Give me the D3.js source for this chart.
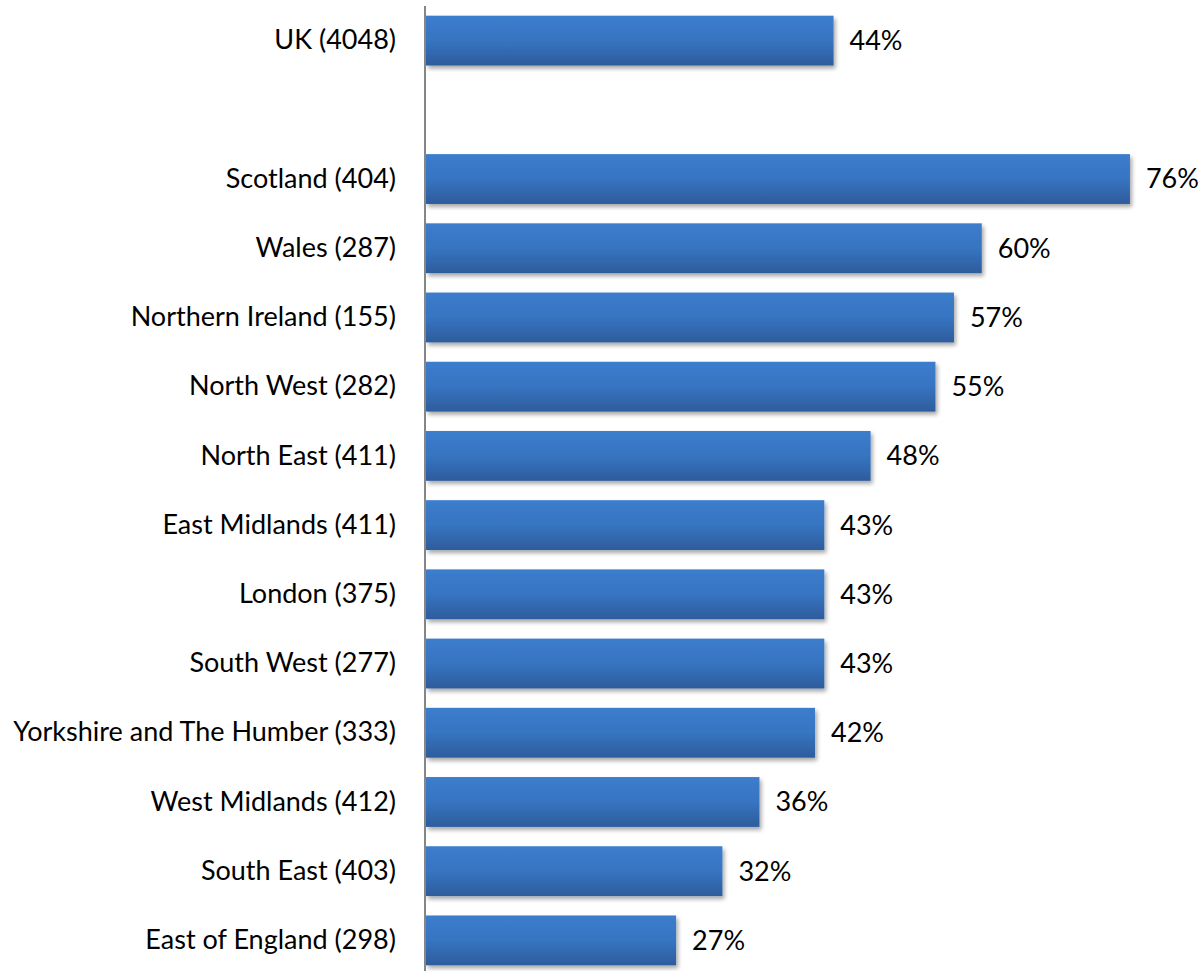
<!DOCTYPE html>
<html>
<head>
<meta charset="utf-8">
<script src="https://cdn.jsdelivr.net/npm/d3@7"></script>
<style>
  html, body { margin: 0; padding: 0; background: #fff; }
  svg { display: block; }
  text { font-family: Lato, "Open Sans", sans-serif; fill: #000; }
</style>
</head>
<body>
<svg id="chart" width="1200" height="971"></svg>
<script>
// Regions with sample sizes; the empty entry leaves a gap below the UK total
const categories = [
  "UK (4048)", "",
  "Scotland (404)", "Wales (287)", "Northern Ireland (155)", "North West (282)",
  "North East (411)", "East Midlands (411)", "London (375)", "South West (277)",
  "Yorkshire and The Humber (333)", "West Midlands (412)", "South East (403)",
  "East of England (298)"
];
const values = [44, null, 76, 60, 57, 55, 48, 43, 43, 43, 42, 36, 32, 27];
const valueLabels = ["44%", "", "76%", "60%", "57%", "55%", "48%", "43%", "43%", "43%", "42%", "36%", "32%", "27%"];

const svg = d3.select("#chart");
const axisX = 426;
const fontSize = 27;

const x = d3.scaleLinear().domain([0, 80]).range([axisX, 1167]);
const y = d3.scaleBand().domain(d3.range(categories.length))
  .range([6, 975]).paddingInner(0.28).paddingOuter(0.14);

const defs = svg.append("defs");
const grad = defs.append("linearGradient").attr("id", "barFill")
  .attr("x1", 0).attr("y1", 0).attr("x2", 0).attr("y2", 1);
grad.append("stop").attr("offset", "0%").attr("stop-color", "#3c7dcd");
grad.append("stop").attr("offset", "50%").attr("stop-color", "#3774c1");
grad.append("stop").attr("offset", "100%").attr("stop-color", "#2d5c9c");

const shadow = defs.append("filter").attr("id", "barShadow")
  .attr("x", "-5%").attr("y", "-20%").attr("width", "115%").attr("height", "160%");
shadow.append("feGaussianBlur").attr("in", "SourceAlpha").attr("stdDeviation", 2).attr("result", "blur");
shadow.append("feOffset").attr("in", "blur").attr("dx", 2).attr("dy", 3).attr("result", "off");
shadow.append("feComponentTransfer").attr("in", "off").attr("result", "soft")
  .append("feFuncA").attr("type", "linear").attr("slope", 0.35);
const merge = shadow.append("feMerge");
merge.append("feMergeNode").attr("in", "soft");
merge.append("feMergeNode").attr("in", "SourceGraphic");

const rows = d3.range(categories.length).filter(i => values[i] != null);

svg.append("g").selectAll("rect").data(rows).join("rect")
  .attr("x", x(0))
  .attr("y", i => y(i))
  .attr("width", i => x(values[i]) - x(0))
  .attr("height", y.bandwidth())
  .attr("fill", "url(#barFill)")
  .attr("filter", "url(#barShadow)");

// Category axis on the left
const yAxis = d3.axisLeft(y).tickSize(0).tickPadding(30).tickFormat(i => categories[i]);
const gAxis = svg.append("g").attr("transform", `translate(${axisX},0)`).call(yAxis);
gAxis.select(".domain").remove();
gAxis.selectAll("text").attr("font-size", fontSize).attr("font-family", "Lato, 'Open Sans', sans-serif").attr("fill", "#000");

svg.append("line")
  .attr("x1", axisX - 1).attr("x2", axisX - 1)
  .attr("y1", 6).attr("y2", 971)
  .attr("stroke", "#868686").attr("stroke-width", 2);

svg.append("g").selectAll("text").data(rows).join("text")
  .attr("x", i => x(values[i]) + 16)
  .attr("y", i => y(i) + y.bandwidth() / 2)
  .attr("dy", "0.35em")
  .attr("font-size", fontSize)
  .text(i => valueLabels[i]);
</script>
</body>
</html>
